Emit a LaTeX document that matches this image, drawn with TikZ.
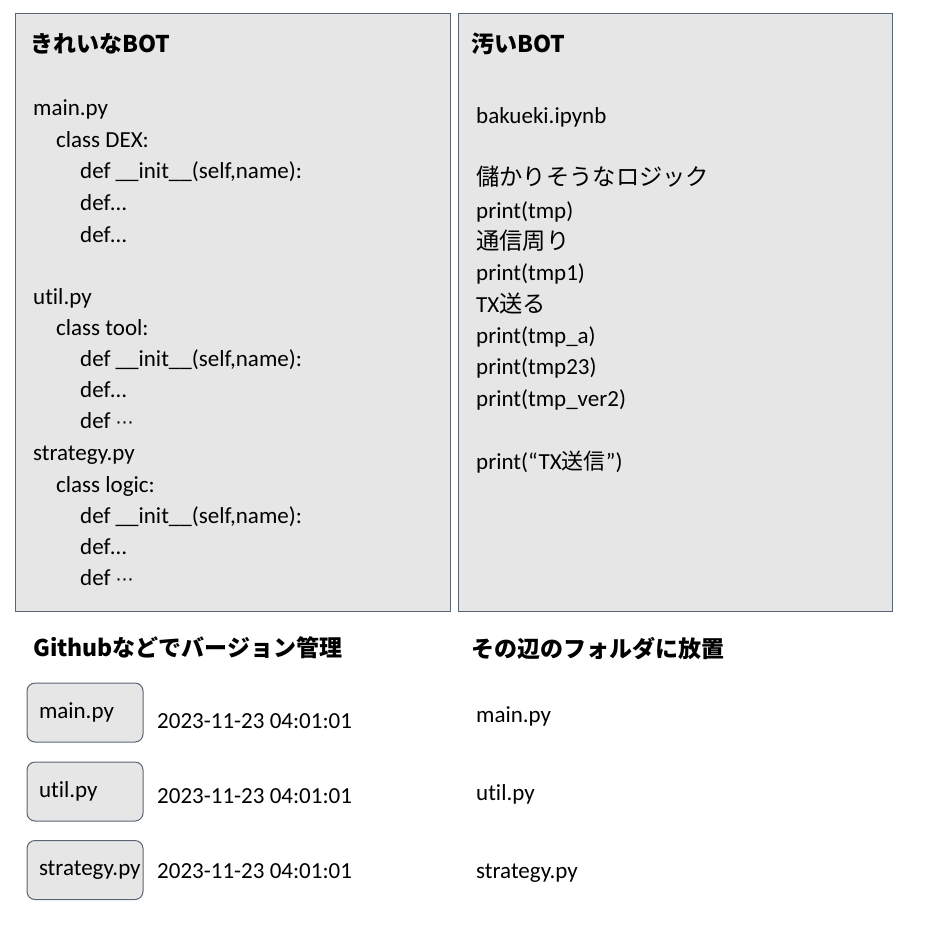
\documentclass[tikz,border=0pt]{standalone}
\usepackage{fontspec}
\setmainfont{Carlito}[Ligatures=CommonOff]
\newfontfamily\jp{Noto Sans CJK JP}
\newfontfamily\sym{DejaVu Sans}
\usepackage{xcolor}
\usepackage{tikz}

\definecolor{panelgray}{HTML}{E7E6E6}
\definecolor{edgeslate}{RGB}{90,100,115}

\begin{document}
\begin{tikzpicture}[x=1pt,y=-1pt,
panel/.style={draw=edgeslate, line width=1pt, fill=panelgray},
code/.style={anchor=base west, inner sep=0pt, font=\fontsize{23}{27}\selectfont},
jpline/.style={anchor=base west, inner sep=0pt, font=\jp\fontsize{23.3}{27}\selectfont},
heading/.style={anchor=base west, inner sep=0pt, font=\jp\bfseries\fontsize{23}{28}\selectfont},
filebox/.style={draw=edgeslate, line width=1pt, fill=panelgray, rounded corners=8pt,
  minimum height=59pt, text width=92pt, inner xsep=12pt, align=left,
  font=\fontsize{23}{27}\selectfont},
]
\useasboundingbox (0,0) rectangle (943,943);

% the two panels
\draw[panel] (15,13) rectangle (450,611);
\draw[panel] (458,13) rectangle (892,611);

% clean bot
\node[heading] (cleantitle) at (30,52) {きれいなBOT};
\node[code] (cmain) at (33,115) {main.py};
\node[code] (cdex) at (56,147) {class DEX:};
\node[code] (cinit1) at (80,178) {def \_\_init\_\_(self,name):};
\node[code] (cdefa) at (80,210) {def…};
\node[code] (cdefb) at (80,242) {def…};
\node[code] (cutil) at (33,304) {util.py};
\node[code] (ctool) at (56,335) {class tool:};
\node[code] (cinit2) at (80,366) {def \_\_init\_\_(self,name):};
\node[code] (cdefc) at (80,397) {def…};
\node[code] (cdefd) at (80,428) {def {\sym\fontsize{18}{22}\selectfont ⋯}};
\node[code] (cstrat) at (33,460) {strategy.py};
\node[code] (clogic) at (56,492) {class logic:};
\node[code] (cinit3) at (80,523) {def \_\_init\_\_(self,name):};
\node[code] (cdefe) at (80,554) {def…};
\node[code] (cdeff) at (80,585) {def {\sym\fontsize{18}{22}\selectfont ⋯}};

% dirty bot
\node[heading] (dirtytitle) at (471,52) {汚いBOT};
\node[code] (dnb) at (476,123) {bakueki.ipynb};
\node[jpline] (dlogic) at (476,185) {儲かりそうなロジック};
\node[code] (dp1) at (476,218) {print(tmp)};
\node[jpline] (dcomm) at (476,249) {通信周り};
\node[code] (dp2) at (476,280) {print(tmp1)};
\node[code] (dsend) at (476,312) {TX{\jp\fontsize{23.3}{27}\selectfont 送る}};
\node[code] (dp3) at (476,343) {print(tmp\_a)};
\node[code] (dp4) at (476,374) {print(tmp23)};
\node[code] (dp5) at (476,406) {print(tmp\_ver2)};
\node[code] (dp6) at (476,469) {print(“TX{\jp\fontsize{22}{26}\selectfont 送信}”)};

% bottom: version control vs folder
\node[heading] (gittitle) at (33,656) {Githubなどでバージョン管理};
\node[heading] (foldertitle) at (471,657) {その辺のフォルダに放置};

\node[filebox] (gmain) at (85,712.5) {main.py};
\node[filebox] (gutil) at (85,791.5) {util.py};
\node[filebox] (gstrat) at (85,870) {strategy.py};
\node[code] (tmain) at (157,728) {2023-11-23 04:01:01};
\node[code] (tutil) at (157,803) {2023-11-23 04:01:01};
\node[code] (tstrat) at (157,878) {2023-11-23 04:01:01};

\node[code] (fmain) at (476,722) {main.py};
\node[code] (futil) at (476,800) {util.py};
\node[code] (fstrat) at (476,878) {strategy.py};

\end{tikzpicture}
\end{document}
